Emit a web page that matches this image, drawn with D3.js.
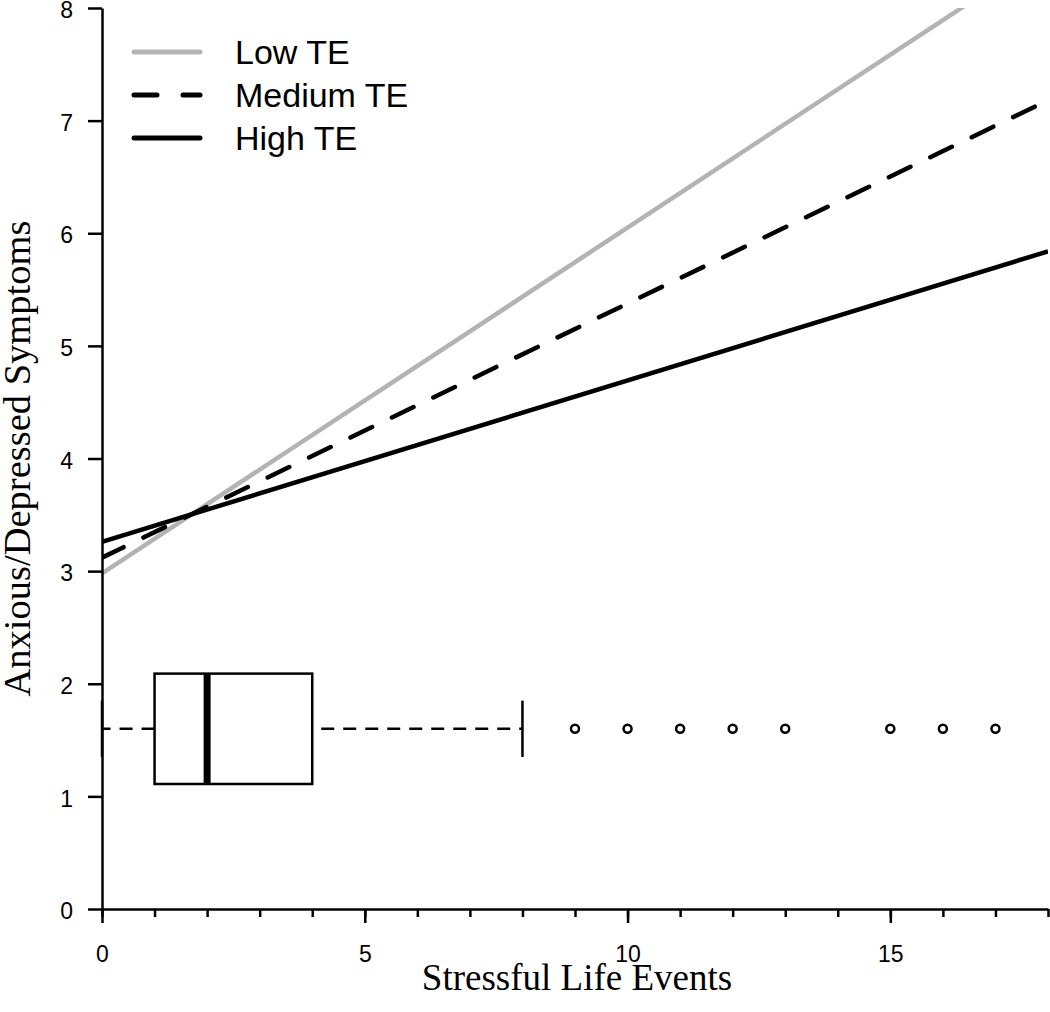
<!DOCTYPE html>
<html>
<head>
<meta charset="utf-8">
<script src="https://cdn.jsdelivr.net/npm/d3@7"></script>
<style>
  html, body { margin: 0; padding: 0; background: #fff; }
  svg { display: block; }
</style>
</head>
<body>
<svg id="chart" width="1050" height="1012"></svg>
<script>
// ---- data ----
const seriesNames = ["Low TE", "Medium TE", "High TE"];
const intercepts = [2.98, 3.12, 3.26];
const slopes = [0.307, 0.2256, 0.1433];
const lineXs = [0, 18];

const boxStats = { min: 0, q1: 1, median: 2, q3: 4, max: 8, y: 1.6, halfHeight: 0.49, capHalf: 0.25 };
const outliers = [9, 10, 11, 12, 13, 15, 16, 17];

const xMajorTicks = [0, 5, 10, 15];
const xMinorTicks = d3.range(0, 19, 1);
const yTicks = [0, 1, 2, 3, 4, 5, 6, 7, 8];

// ---- layout ----
const svg = d3.select("#chart");
const x = d3.scaleLinear().domain([0, 18]).range([102, 1048]);
const y = d3.scaleLinear().domain([0, 8]).range([909, 8]);

const styles = [
  { stroke: "#b3b3b3", dash: null, width: 4.5 },
  { stroke: "#000", dash: "24,22", width: 4.5 },
  { stroke: "#000", dash: null, width: 4.5 }
];

svg.append("defs").append("clipPath").attr("id", "plotclip")
  .append("rect").attr("x", x(0)).attr("y", y(8)).attr("width", x(18) - x(0)).attr("height", y(0) - y(8));

// regression lines
const line = d3.line().x(d => x(d[0])).y(d => y(d[1]));
const gLines = svg.append("g").attr("clip-path", "url(#plotclip)");
seriesNames.forEach((name, i) => {
  const pts = lineXs.map(v => [v, intercepts[i] + slopes[i] * v]);
  gLines.append("path")
    .attr("d", line(pts))
    .attr("fill", "none")
    .attr("stroke", styles[i].stroke)
    .attr("stroke-width", styles[i].width)
    .attr("stroke-dasharray", styles[i].dash)
    .attr("stroke-linecap", styles[i].dash ? "round" : "butt");
});

// boxplot
const gBox = svg.append("g");
const by = boxStats.y;
const dashW = "13,9";
gBox.append("line")
  .attr("x1", x(boxStats.q1)).attr("x2", x(boxStats.min))
  .attr("y1", y(by)).attr("y2", y(by))
  .attr("stroke", "#000").attr("stroke-width", 2.5).attr("stroke-dasharray", dashW);
gBox.append("line")
  .attr("x1", x(boxStats.q3)).attr("x2", x(boxStats.max))
  .attr("y1", y(by)).attr("y2", y(by))
  .attr("stroke", "#000").attr("stroke-width", 2.5).attr("stroke-dasharray", dashW)
  .attr("stroke-dashoffset", -9);
[boxStats.min, boxStats.max].forEach(v => {
  gBox.append("line")
    .attr("x1", x(v)).attr("x2", x(v))
    .attr("y1", y(by + boxStats.capHalf)).attr("y2", y(by - boxStats.capHalf))
    .attr("stroke", "#000").attr("stroke-width", 2.5);
});
gBox.append("rect")
  .attr("x", x(boxStats.q1)).attr("width", x(boxStats.q3) - x(boxStats.q1))
  .attr("y", y(by + boxStats.halfHeight)).attr("height", y(by - boxStats.halfHeight) - y(by + boxStats.halfHeight))
  .attr("fill", "#fff").attr("stroke", "#000").attr("stroke-width", 2.5);
gBox.append("line")
  .attr("x1", x(boxStats.median)).attr("x2", x(boxStats.median))
  .attr("y1", y(by + boxStats.halfHeight)).attr("y2", y(by - boxStats.halfHeight))
  .attr("stroke", "#000").attr("stroke-width", 7);
gBox.selectAll("circle.out").data(outliers).enter().append("circle")
  .attr("class", "out")
  .attr("cx", d => x(d)).attr("cy", y(by)).attr("r", 4)
  .attr("fill", "none").attr("stroke", "#000").attr("stroke-width", 2.5);

// axes
const axisFont = "'Liberation Sans', Arial, sans-serif";
const gx = svg.append("g").attr("transform", `translate(0,${y(0)})`)
  .call(d3.axisBottom(x).tickValues(xMajorTicks).tickFormat(d3.format("d")).tickSize(14).tickSizeOuter(0).tickPadding(23));
const gxMinor = svg.append("g").attr("transform", `translate(0,${y(0)})`)
  .call(d3.axisBottom(x).tickValues(xMinorTicks).tickFormat("").tickSize(8).tickSizeOuter(0));
const gy = svg.append("g").attr("transform", `translate(${x(0)},0)`)
  .call(d3.axisLeft(y).tickValues(yTicks).tickFormat(d3.format("d")).tickSize(14).tickSizeOuter(0).tickPadding(15));

[gx, gxMinor, gy].forEach(g => {
  g.selectAll("path.domain").attr("stroke", "#000").attr("stroke-width", 2.5);
  g.selectAll(".tick line").attr("stroke", "#000").attr("stroke-width", 2.5);
  g.selectAll(".tick text").attr("fill", "#000").style("font-family", axisFont).style("font-size", "23px");
});
gy.selectAll(".tick text").attr("dy", "0.42em");
gxMinor.select("path.domain").remove();

// axis titles
const serif = "'Liberation Serif', 'Times New Roman', serif";
svg.append("text")
  .attr("x", (x(0) + x(18)) / 2 + 2).attr("y", 990)
  .attr("text-anchor", "middle")
  .style("font-family", serif)
  .style("font-size", "37px")
  .text("Stressful Life Events");
svg.append("text")
  .attr("transform", `translate(30,${(y(0) + y(8)) / 2}) rotate(-90)`)
  .attr("text-anchor", "middle")
  .style("font-family", serif)
  .style("font-size", "38.5px")
  .text("Anxious/Depressed Symptoms");

// legend
const legendYs = [52, 95, 138];
const gLeg = svg.append("g");
seriesNames.forEach((name, i) => {
  gLeg.append("line")
    .attr("x1", 134).attr("x2", 200)
    .attr("y1", legendYs[i]).attr("y2", legendYs[i])
    .attr("stroke", styles[i].stroke)
    .attr("stroke-width", 5)
    .attr("stroke-linecap", "round")
    .attr("stroke-dasharray", styles[i].dash ? "23,26" : null);
  gLeg.append("text")
    .attr("x", 235).attr("y", legendYs[i])
    .attr("dy", "0.36em")
    .style("font-family", axisFont)
    .style("font-size", "34px")
    .text(name);
});
</script>
</body>
</html>
